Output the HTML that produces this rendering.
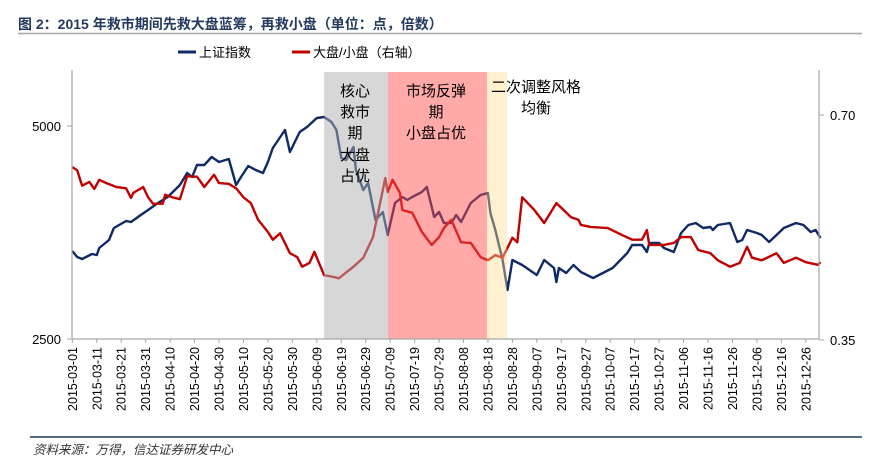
<!DOCTYPE html>
<html><head><meta charset="utf-8">
<style>
body{margin:0;background:#fff;width:876px;height:464px;overflow:hidden;font-family:"Liberation Sans","Noto Sans CJK SC",sans-serif;}
</style></head>
<body>
<svg id="chart" width="876" height="464" xmlns="http://www.w3.org/2000/svg" style="position:absolute;left:0;top:0">
<text x="18" y="29" font-size="14" font-weight="bold" fill="#243a5e" font-family="'Liberation Sans','Noto Sans CJK SC',sans-serif">图 2：2015 年救市期间先救大盘蓝筹，再救小盘（单位：点，倍数）</text>
<line x1="18" y1="33.5" x2="862" y2="33.5" stroke="#a6a6a6" stroke-width="1.5"/>
<g>
<g><line x1="178" y1="52" x2="196" y2="52" stroke="#0f2a66" stroke-width="3"/><text x="199" y="57" font-size="13" fill="#000">上证指数</text></g>
<g><line x1="292" y1="52" x2="310" y2="52" stroke="#c00000" stroke-width="3"/><text x="313" y="57" font-size="13" fill="#000">大盘/小盘（右轴）</text></g>
</g>
<g id="plot"></g>
<line x1="30" y1="437" x2="862" y2="437" stroke="#1f3864" stroke-width="1.5"/>
<text x="33" y="454" font-size="12.5" font-style="italic" fill="#333">资料来源：万得，信达证券研发中心</text>
</svg>
<script>
const startDate = new Date(2015, 2, 1);
const tickDays = [0,10,20,30,40,50,60,70,80,90,100,110,120,130,140,150,160,170,180,190,200,210,220,230,240,250,260,270,280,290,300];
const leftTicks = [2500, 5000];
const rightTicks = [0.35, 0.70];
const indexDays = [0,2,4,8,10,11,15,17,22,24,28,31,35,39,44,47,49,51,54,57,60,64,67,69,72,75,78,80,82,87,89,93,96,100,103,106,108,110,112,115,116,119,121,124,127,129,132,135,137,139,143,145,148,150,152,155,157,159,163,167,170,171,173,176,178,180,184,190,193,197,198,199,202,205,208,213,221,227,229,233,235,236,240,242,246,249,252,255,258,261,262,264,269,272,274,276,280,282,285,288,291,296,299,302,304,306];
const indexValues = [3533,3463,3439,3498,3486,3568,3662,3803,3885,3873,3955,4014,4096,4167,4308,4448,4401,4542,4542,4636,4577,4613,4308,4401,4531,4484,4448,4577,4742,4953,4695,4930,4988,5094,5106,5047,4953,4624,4601,4754,4484,4249,4331,3897,3991,3721,4096,4167,4131,4167,4225,4284,3932,3991,3862,3862,3955,3873,4096,4190,4214,3979,3779,3427,3075,3427,3369,3251,3427,3333,3169,3333,3275,3369,3286,3216,3333,3509,3603,3603,3521,3627,3627,3568,3521,3744,3838,3862,3803,3815,3779,3838,3862,3639,3662,3779,3744,3721,3639,3721,3803,3862,3838,3756,3779,3685];
const ratioDays = [0,2,4,7,9,11,14,18,22,24,25,29,31,33,37,38,41,44,47,49,51,54,58,60,64,67,70,73,76,80,82,85,89,92,94,97,99,103,107,109,115,119,123,128,129,131,134,135,139,143,147,150,152,155,159,163,167,170,173,176,180,182,184,189,193,198,204,207,208,212,219,225,229,233,235,236,242,246,249,253,256,261,264,269,273,276,278,282,288,291,296,300,305,306];
const ratioValues = [0.619,0.614,0.590,0.596,0.585,0.599,0.594,0.588,0.586,0.571,0.579,0.588,0.572,0.562,0.562,0.576,0.572,0.569,0.605,0.604,0.604,0.588,0.607,0.594,0.593,0.586,0.572,0.563,0.537,0.518,0.506,0.516,0.485,0.479,0.464,0.470,0.487,0.451,0.448,0.446,0.464,0.478,0.510,0.602,0.580,0.599,0.579,0.552,0.548,0.518,0.498,0.510,0.524,0.537,0.502,0.501,0.479,0.474,0.482,0.478,0.509,0.502,0.572,0.552,0.532,0.563,0.541,0.537,0.529,0.526,0.524,0.513,0.506,0.506,0.521,0.498,0.498,0.501,0.510,0.510,0.490,0.485,0.474,0.464,0.470,0.495,0.478,0.474,0.485,0.470,0.478,0.471,0.467,0.471];
const periodNames = ['rescue-period','rebound-period','second-adjust-period'];
const periodStart = [103, 129.1, 169.6];
const periodEnd = [129.1, 169.6, 177.8];

const NS = 'http://www.w3.org/2000/svg';
const plot = document.getElementById('plot');
const X0 = 72.3, PXD = 2.445, YT = 72, YB = 339;
const xS = d => X0 + d * PXD;
const yL = v => 126 + (5000 - v) * (213 / 2500);
const yR = v => 115 + (0.70 - v) * (225 / 0.35);
function mk(tag, attrs, parent) {
  const e = document.createElementNS(NS, tag);
  for (const k in attrs) e.setAttribute(k, attrs[k]);
  (parent || plot).appendChild(e);
  return e;
}
function pad(n){return (n<10?'0':'')+n;}

let pts = indexDays.map((d,i)=>xS(d).toFixed(1)+','+yL(indexValues[i]).toFixed(1)).join(' ');
const l1 = mk('polyline',{points:pts,fill:'none',stroke:'#0f2a66','stroke-width':2.4,'stroke-linejoin':'round'});


pts = ratioDays.map((d,i)=>xS(d).toFixed(1)+','+yR(ratioValues[i]).toFixed(1)).join(' ');
const l2 = mk('polyline',{points:pts,fill:'none',stroke:'#c00000','stroke-width':2.4,'stroke-linejoin':'round'});



const fills = ['rgba(175,175,175,0.5)','rgba(255,75,75,0.48)','rgba(255,222,140,0.42)'];
periodStart.forEach((s,i)=>{
  const r = mk('rect',{x:xS(s),y:YT,width:xS(periodEnd[i])-xS(s),height:YB-YT,fill:fills[i]});
  
  
});

function ann(lines, cx, ys, name){
  const g = mk('g',{});
  
  
  lines.forEach((t,i)=>{const e=mk('text',{x:cx,y:ys[i],'text-anchor':'middle','font-size':15,fill:'#000'},g);e.textContent=t;});
}
ann(['核心','救市','期','大盘','占优'],355,[96,117,138,160,181],'rescue-annotation');
ann(['市场反弹','期','小盘占优'],436,[96,117,138],'rebound-annotation');
ann(['二次调整风格','均衡'],536,[92,113],'adjust-annotation');

const ax = mk('g',{});  
mk('line',{x1:72,y1:YT-2,x2:72,y2:YB,stroke:'#a6a6a6','stroke-width':1.2},ax);
mk('line',{x1:819,y1:YT-2,x2:819,y2:YB,stroke:'#a6a6a6','stroke-width':1.2},ax);
mk('line',{x1:72,y1:YB,x2:819,y2:YB,stroke:'#a6a6a6','stroke-width':1.2},ax);
leftTicks.forEach(v=>{
  mk('line',{x1:67,y1:yL(v),x2:72,y2:yL(v),stroke:'#a6a6a6'},ax);
  const t=mk('text',{x:61,y:yL(v)+5,'text-anchor':'end','font-size':13,fill:'#000'},ax);
   
  t.textContent=v;
});
rightTicks.forEach(v=>{
  mk('line',{x1:819,y1:yR(v),x2:824,y2:yR(v),stroke:'#a6a6a6'},ax);
  const t=mk('text',{x:830,y:yR(v)+5,'font-size':13,fill:'#000'},ax);
   
  t.textContent=v.toFixed(2);
});
tickDays.forEach(d=>{
  const x=xS(d);
  mk('line',{x1:x,y1:YB,x2:x,y2:YB+4,stroke:'#a6a6a6'},ax);
  const dt=new Date(startDate.getTime()+d*86400000);
  const lbl=dt.getFullYear()+'-'+pad(dt.getMonth()+1)+'-'+pad(dt.getDate());
  const t=mk('text',{x:0,y:0,'text-anchor':'end','font-size':12.5,fill:'#000',transform:'translate('+(x+4.5)+','+(YB+8)+') rotate(-90)'},ax);
   
  t.textContent=lbl;
});
</script>
</body></html>
